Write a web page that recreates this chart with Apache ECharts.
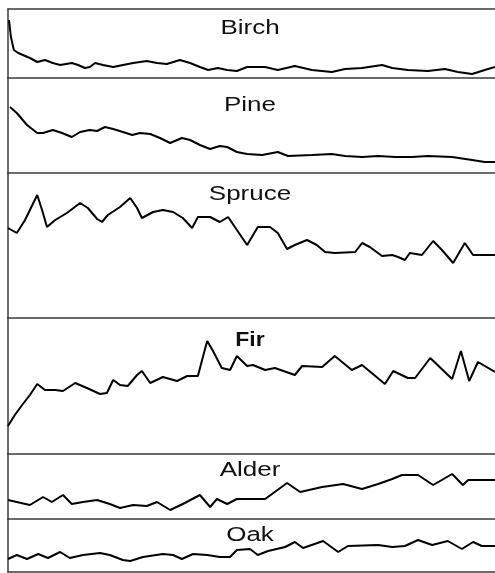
<!DOCTYPE html>
<html>
<head>
<meta charset="utf-8">
<script src="https://cdn.jsdelivr.net/npm/echarts@6/dist/echarts.min.js"></script>
<style>
html,body{margin:0;padding:0;background:#fff;}
#chart{width:495px;height:573px;}
</style>
</head>
<body>
<div id="chart"></div>
<script>
// Taxa (panel order, top to bottom)
const taxa = ['Birch', 'Pine', 'Spruce', 'Fir', 'Alder', 'Oak'];
// Axis maximum of each panel (relative abundance units)
const panelMax = [69, 95, 145, 136, 65, 53];

// Sample positions (0-100 along the record) and values for each taxon
const birchX = [0.2,0.6,1.2,2.1,4.5,6.0,7.6,9.2,10.7,13.1,14.4,15.8,16.8,17.9,19.5,21.6,23.6,25.7,28.5,30.6,32.6,35.3,37.4,39.4,41.1,43.1,45.0,47.0,49.1,52.8,55.4,58.9,62.4,66.5,69.2,72.7,76.8,78.9,82.1,86.2,89.7,92.4,95.3,97.9,100];
const birchY = [58,41,28,25,20,16,18,15,13,15,13,10,11,15,13,11,13,15,17,15,14,18,15,11,8,10,8,7,11,11,8,12,8,6,9,10,13,10,8,7,9,6,4,8,11];

const pineX = [0.4,1.8,3.9,6.0,7.2,9.2,11.1,13.1,14.8,16.8,18.3,19.9,21.6,23.6,25.5,27.1,29.2,31.2,33.3,35.7,37.4,39.4,41.5,43.5,45.0,47.0,49.1,52.2,55.4,57.5,62.4,66.5,69.2,72.7,76.0,79.5,82.9,86.2,91.2,95.3,97.9,100];
const pineY = [66,60,48,40,40,43,40,36,41,43,42,46,44,41,38,40,39,35,30,35,33,28,24,27,26,21,19,18,21,17,18,19,17,16,17,16,16,17,16,13,11,11];

const spruceX = [0,1.8,3.5,6.0,7.0,8.0,9.7,12.1,14.8,16.4,18.3,19.3,20.5,23.0,25.1,26.5,27.5,29.8,31.8,33.9,35.9,37.8,39.0,41.5,43.5,45.2,47.0,49.1,51.3,53.8,55.4,57.3,58.9,61.4,63.4,65.1,67.1,71.3,72.7,74.3,76.8,78.9,80.1,81.5,82.5,85.0,87.3,89.1,91.4,93.8,95.5,100];
const spruceY = [90,85,98,123,108,91,98,105,115,110,99,96,103,111,120,110,100,106,108,106,100,90,101,101,96,101,88,73,91,91,85,69,73,78,73,66,65,66,75,71,62,63,61,58,65,63,77,68,55,75,63,63];

const firX = [0,1.4,2.9,4.5,6.0,7.6,9.7,11.3,13.8,16.2,18.9,20.3,21.6,23.0,24.6,26.5,27.5,29.2,31.8,34.7,36.8,39.0,39.8,40.9,42.1,43.9,45.6,47.0,49.1,50.3,52.8,54.8,58.9,60.4,64.5,67.1,70.6,72.7,77.4,79.1,82.1,83.6,86.7,91.2,93.0,94.7,96.5,100];
const firY = [28,39,49,59,70,64,64,63,71,66,60,61,74,69,68,79,83,71,77,73,78,78,93,113,103,86,84,98,88,89,84,86,79,88,87,98,84,89,70,83,76,76,96,75,103,73,92,82];

const alderX = [0,1.8,4.5,7.2,9.0,11.3,13.1,15.4,18.3,20.9,23.0,25.7,28.5,30.6,33.3,35.9,39.4,41.5,42.9,45.0,47.0,52.8,57.3,60.0,64.5,68.8,72.7,76.0,78.9,80.9,84.2,87.3,91.2,93.4,94.5,100];
const alderY = [19,17,14,22,17,24,15,17,19,15,11,14,13,17,9,15,24,12,20,15,20,20,36,27,32,35,30,35,40,44,44,34,45,34,39,39];

const oakX = [0,1.8,3.9,6.2,8.2,10.7,12.7,15.4,18.9,20.9,23.6,25.1,27.7,31.8,33.9,35.7,38.0,40.9,43.5,45.6,47.0,49.7,51.3,53.4,56.9,58.9,60.6,64.7,67.8,69.8,76.0,78.9,81.5,84.2,87.1,90.3,93.2,95.5,97.3,100];
const oakY = [13,17,13,18,14,20,14,17,19,17,12,11,15,18,17,13,18,17,15,15,22,23,17,21,25,30,24,31,20,26,27,25,26,32,27,31,23,30,26,26];

const seriesX = [birchX, pineX, spruceX, firX, alderX, oakX];
const seriesY = [birchY, pineY, spruceY, firY, alderY, oakY];

// Layout (pixels)
const panelTop = [9, 78, 173, 318, 454, 519];
const labelCenterY = [28, 105.5, 194, 340, 470.5, 535.5];

const frame = { color: '#3a3a3a', width: 1.5 };
const grids = [], xAxes = [], yAxes = [], series = [], graphics = [];

taxa.forEach((name, i) => {
  grids.push({ left: 8, right: 0, top: panelTop[i], height: panelMax[i] });
  xAxes.push({
    gridIndex: i, type: 'value', min: 0, max: 100, position: 'bottom',
    axisLine: { show: true, onZero: false, lineStyle: frame },
    axisTick: { show: false }, axisLabel: { show: false }, splitLine: { show: false }
  });
  yAxes.push({
    gridIndex: i, type: 'value', min: 0, max: panelMax[i],
    axisLine: { show: true, onZero: false, lineStyle: frame },
    axisTick: { show: false }, axisLabel: { show: false }, splitLine: { show: false }
  });
  series.push({
    type: 'line', name: name, xAxisIndex: i, yAxisIndex: i,
    data: seriesX[i].map((x, k) => [x, seriesY[i][k]]),
    showSymbol: false, symbol: 'none', smooth: false,
    lineStyle: { color: '#000', width: 2 }, silent: true
  });
  graphics.push({
    type: 'text', x: 250, y: labelCenterY[i],
    scaleX: name === 'Fir' ? 1.15 : 1.3,
    style: {
      text: name, fill: '#111',
      font: (name === 'Fir' ? 'bold ' : '') + '20px "Liberation Sans", Arial, sans-serif',
      textAlign: 'center', textVerticalAlign: 'middle'
    }
  });
});
// top border line of the first panel
xAxes.push({
  gridIndex: 0, type: 'value', min: 0, max: 100, position: 'top',
  axisLine: { show: true, onZero: false, lineStyle: frame },
  axisTick: { show: false }, axisLabel: { show: false }, splitLine: { show: false }
});

const chart = echarts.init(document.getElementById('chart'), null, { renderer: 'canvas' });
chart.setOption({
  animation: false,
  backgroundColor: '#fff',
  grid: grids, xAxis: xAxes, yAxis: yAxes, series: series,
  graphic: graphics
});
</script>
</body>
</html>
